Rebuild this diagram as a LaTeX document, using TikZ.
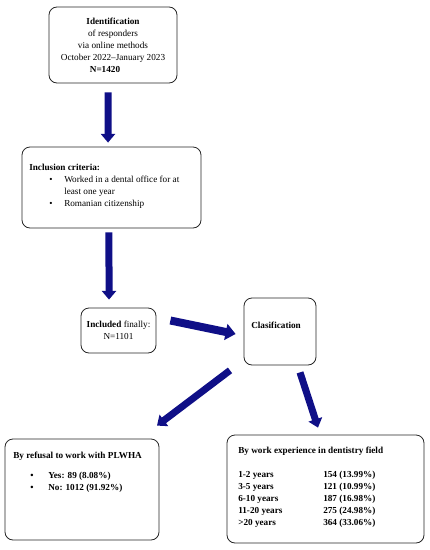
\documentclass[tikz,border=0pt]{standalone}
\usepackage{fontspec}
\setmainfont{Liberation Serif}
\usetikzlibrary{arrows.meta,calc}
\definecolor{arrowblue}{RGB}{15,15,135}
\newcommand{\bitem}[2][15pt]{\makebox[26.25pt][l]{\hspace*{#1}\textbullet}#2}
\newcommand{\yrow}[2]{\makebox[63.75pt][l]{#1}#2}

\begin{document}
\begin{tikzpicture}[x=0.75pt,y=-0.75pt,
        box/.style={draw=black!85,line width=0.6pt,rounded corners=6pt,inner sep=0pt},
        txt/.style={font=\fontsize{6.9}{9}\selectfont,inner sep=0pt},
        boldtxt/.style={txt,font=\fontsize{6.9}{9}\selectfont\bfseries},
        bigarrow/.style={draw=arrowblue,line width=5.25pt,-{Triangle[width=10.5pt,length=6.5pt]}}]
        \useasboundingbox (0,0) rectangle (429,550);
        % boxes
        \node[box,txt,align=center,minimum width=96pt,minimum height=57pt] (ident) at (113,45)
           {\textbf{Identification}\\of responders\\via online methods\\October 2022--January 2023\\\textbf{N=1420}\hspace*{12pt}};
        \node[box,minimum width=134.25pt,minimum height=60.75pt] (incl) at (111.5,187.5) {};
        \node[txt,align=left,anchor=north west] (incltxt) at (29,164)
           {\textbf{Inclusion criteria:}\\\bitem{Worked in a dental office for at}\\\hspace*{26.25pt}least one year\\\bitem{Romanian citizenship}};
        \node[box,txt,align=center,minimum width=56.25pt,minimum height=33.75pt] (final) at (118.5,330.5)
           {\textbf{Included} finally:\\N=1101};
        \node[box,minimum width=54pt,minimum height=50.25pt] (clas) at (280,331.5) {};
        \node[boldtxt,anchor=base west] (clastxt) at (251,328) {Clasification};
        \node[box,minimum width=115.5pt,minimum height=75.75pt] (refusal) at (82,489.5) {};
        \node[boldtxt,align=left,anchor=north west] (refusaltxt) at (13,452)
           {By refusal to work with PLWHA\\[6pt]\bitem[12.75pt]{Yes: 89 (8.08\%)}\\\bitem[12.75pt]{No: 1012 (91.92\%)}};
        \node[box,minimum width=147.75pt,minimum height=81pt] (exper) at (325.5,489) {};
        \node[boldtxt,align=left,anchor=north west] (expertxt) at (238,447)
           {By work experience in dentistry field\\[9pt]
            \yrow{1-2 years}{154 (13.99\%)}\\
            \yrow{3-5 years}{121 (10.99\%)}\\
            \yrow{6-10 years}{187 (16.98\%)}\\
            \yrow{11-20 years}{275 (24.98\%)}\\
            \yrow{>20 years}{364 (33.06\%)}};
        % arrows
        \draw[bigarrow,shorten <=6.75pt,shorten >=3pt] ([xshift=-3.75pt]ident.south) -- ([xshift=-2.6pt]incl.north);
        \draw[bigarrow,shorten <=3pt,shorten >=6pt] ([xshift=-1.9pt]incl.south) -- ([xshift=-7.1pt]final.north);
        \draw[bigarrow,line width=6pt,-{Triangle[width=12pt,length=7.5pt]}] ($(final.east)+(14,-10)$) -- ($(clas.west)+(-8,2.5)$);
        \draw[bigarrow] ($(clas.south)+(-50,5)$) -- ($(refusal.north)+(75,-13)$);
        \draw[bigarrow] ($(clas.south)+(20,7)$) -- ($(exper.north)+(-7.5,-7)$);
\end{tikzpicture}
\end{document}
